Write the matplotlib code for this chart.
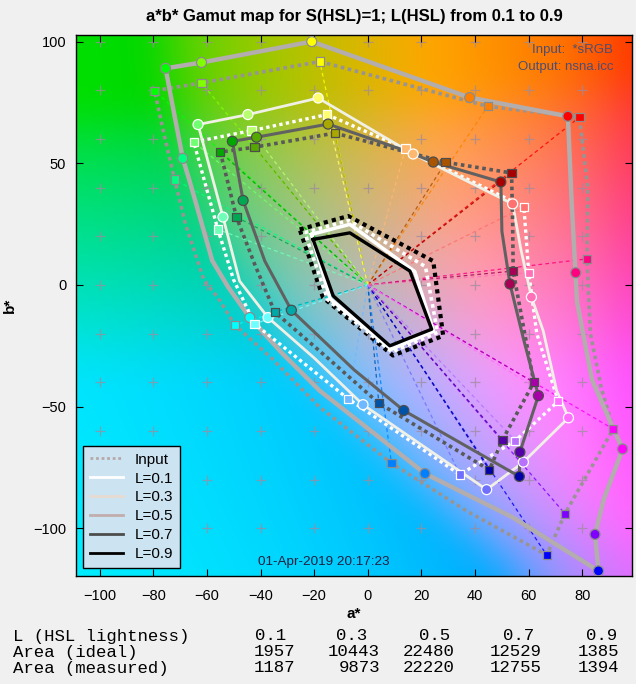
import colorsys
import numpy as np
import matplotlib
matplotlib.use("Agg")
import matplotlib.pyplot as plt
from matplotlib.lines import Line2D

plt.rcParams["font.family"] = ["Liberation Sans", "DejaVu Sans"]

# Marker hues (deg): R, O, Y, Ch, G, Sp, C, Az, B, V, M, Ro
HUES = [0, 30, 60, 90, 120, 150, 180, 210, 240, 270, 300, 330]

# L(HSL)=0.5 -- outer gray pair
L5_IN_A = [-17.9, 44.7, 78.9, 82, 81.7, 83, 87, 91.5, 73.5, 66.7, 37, 8.8, -17.9, -36, -49.6, -56, -61, -68, -72, -76, -79.5, -62, -17.9]
L5_IN_B = [91.8, 73.4, 68.9, 40, 10.7, -20, -42, -59.2, -94, -111, -93, -73.2, -50.3, -30, -16.4, -5, 1.6, 25, 43.3, 62, 79.8, 83, 91.8]
L5_IN_MK_A = [78.9, 44.7, -17.9, -62, -79.5, -72, -49.6, 8.8, 66.7, 73.5, 91.5, 81.7]
L5_IN_MK_B = [68.9, 73.4, 91.8, 83, 79.8, 43.3, -16.4, -73.2, -111, -94, -59.2, 10.7]
L5_MS_A = [-20.9, 38, 74.6, 76, 78, 83.6, 90.3, 95, 88, 84.7, 86, 54, 21.3, -0.4, -18, -32, -44, -52, -58, -66.4, -69, -73, -75.4, -62, -20.9]
L5_MS_B = [100, 77, 69.3, 34, -7, -39, -56, -67.4, -88, -102.5, -117.5, -95.5, -77.5, -58.6, -43.4, -28, -13.4, -1, 10, 42.6, 52, 75, 89, 91.4, 100]
L5_MS_MK_A = [74.6, 38, -20.9, -62, -75.4, -69, -44, 21.3, 86, 84.7, 95, 77.5]
L5_MS_MK_B = [69.3, 77, 100, 91.4, 89, 52, -13.4, -77.5, -117.5, -102.5, -67.4, 5]

# L(HSL)=0.7 -- dark gray pair
L7_IN_A = [-12.3, 29, 53.6, 54, 54.2, 58, 61.9, 50.2, 45.3, 4.1, -15, -34.7, -42, -49, -55, -42.2, -12.3]
L7_IN_B = [62.4, 50.4, 46, 25, 5.7, -17, -40, -63.7, -76, -48.6, -30, -11.1, 8, 27.9, 54.6, 56.6, 62.4]
L7_IN_MK_A = [53.6, 29, -12.3, -42.2, -55, -49, -34.7, 4.1, 45.3, 50.2, 61.9, 54.2]
L7_IN_MK_B = [46, 50.4, 62.4, 56.6, 54.6, 27.9, -11.1, -48.6, -76, -63.7, -40, 5.7]
L7_MS_A = [-14.8, 14.4, 24.4, 49.6, 50, 53, 58, 63.6, 56.7, 56.5, 13.4, -5, -28.5, -38.4, -46.5, -50.5, -41.5, -14.8]
L7_MS_B = [66.1, 55, 50.5, 42.3, 22, 0.4, -22, -45.5, -68.7, -78.7, -51.6, -35, -10.4, 9.8, 34.7, 59, 60.7, 66.1]
L7_MS_MK_A = [49.6, 24.4, -14.8, -41.5, -50.5, -46.5, -28.5, 13.4, 56.5, 56.7, 63.6, 53]
L7_MS_MK_B = [42.3, 50.5, 66.1, 60.7, 59, 34.7, -10.4, -51.6, -78.7, -68.7, -45.5, 0.4]

# L(HSL)=0.3 -- light pair
L3_IN_A = [-15.2, 14, 58.2, 60, 63, 71, 55, 34.3, -7.3, -42.2, -50, -55.9, -64.9, -43.4, -15.2]
L3_IN_B = [70, 56, 32, 5, -20, -47.8, -64, -77.9, -46.8, -16, 2, 22.8, 58.7, 63.4, 70]
L3_IN_MK_A = [58.2, 14, -15.2, -43.4, -64.9, -55.9, -42.2, -7.3, 34.3, 55, 71, 60]
L3_IN_MK_B = [32, 56, 70, 63.4, 58.7, 22.8, -16, -46.8, -77.9, -64, -47.8, 5]
L3_MS_A = [-18.5, 16.9, 54, 57, 61, 65.4, 70.4, 74.8, 58, 44.3, -1.8, -20, -37.2, -47.8, -54, -63.3, -44.7, -18.5]
L3_MS_B = [76.8, 53.8, 33.3, 15, -5, -18.9, -43.4, -54.6, -72.8, -84.1, -49.2, -30, -13.4, 1.6, 27.9, 65.9, 70, 76.8]
L3_MS_MK_A = [54, 16.9, -18.5, -44.7, -63.3, -54, -37.2, -1.8, 44.3, 58, 74.8, 61]
L3_MS_MK_B = [33.3, 53.8, 76.8, 70, 65.9, 27.9, -13.4, -49.2, -84.1, -72.8, -54.6, -5]

# L(HSL)=0.1 and 0.9 -- small central hexagons
L9_IN_A = [-25.4, -7.3, 24.4, 28.1, 9.4, -16.7, -25.4]
L9_IN_B = [22.8, 28.3, 9.8, -20.9, -29, -5.2, 22.8]
L1_IN_A = [-23.5, -7, 21.5, 26, 9, -15, -23.5]
L1_IN_B = [21.5, 26.5, 7.5, -19.5, -27.5, -6, 21.5]
L1_MS_A = [-21, -6.7, 17.5, 24.5, 8.8, -14, -21]
L1_MS_B = [20.8, 24.9, 5.5, -19, -26.4, -5.8, 20.8]
L9_MS_A = [-20.4, -6.7, 15.7, 23.8, 8.2, -12.9, -20.4]
L9_MS_B = [18.7, 21.4, 5.7, -18.2, -25, -4.5, 18.7]

# Table below the plot
TABLE_ROWS = ["L (HSL lightness)", "Area (ideal)", "Area (measured)"]
TABLE_L = ["0.1", "0.3", "0.5", "0.7", "0.9"]
AREA_IDEAL = [1957, 10443, 22480, 12529, 1385]
AREA_MEAS = [1187, 9873, 22220, 12755, 1394]

XLIM = (-108.8, 98.5)
YLIM = (-119.6, 102.7)


def lab_to_srgb(L, a, b):
    fy = (L + 16) / 116
    fx = fy + a / 500
    fz = fy - b / 200

    def finv(t):
        return np.where(t > 6 / 29, t ** 3, 3 * (6 / 29) ** 2 * (t - 4 / 29))

    X, Y, Z = 0.9505 * finv(fx), finv(fy), 1.089 * finv(fz)
    r = 3.2406 * X - 1.5372 * Y - 0.4986 * Z
    g = -0.9689 * X + 1.8758 * Y + 0.0415 * Z
    bb = 0.0557 * X - 0.2040 * Y + 1.0570 * Z
    rgb = np.clip(np.stack([r, g, bb], -1), 0, 1)
    return np.where(rgb <= 0.0031308, 12.92 * rgb, 1.055 * rgb ** (1 / 2.4) - 0.055)


def smooth(img, sigma):
    # separable gaussian blur, edges padded
    r = int(3 * sigma)
    k = np.exp(-0.5 * (np.arange(-r, r + 1) / sigma) ** 2)
    k /= k.sum()
    out = np.pad(img, ((r, r), (r, r), (0, 0)), mode="edge")
    out = np.apply_along_axis(lambda m: np.convolve(m, k, "valid"), 0, out)
    out = np.apply_along_axis(lambda m: np.convolve(m, k, "valid"), 1, out)
    return np.clip(out, 0, 1)


def hue_colors(light):
    return [colorsys.hls_to_rgb(h / 360, light, 1.0) for h in HUES]


fig = plt.figure(figsize=(6.36, 6.84), dpi=100, facecolor="#f0f0f0")
ax = fig.add_axes([76 / 636, 1 - 576 / 684, 556 / 636, 541 / 684])

# Lab background
ga, gb = np.meshgrid(np.linspace(*XLIM, 240), np.linspace(*YLIM, 240))
bg = smooth(lab_to_srgb(75, ga, gb), 8)
ax.imshow(bg, extent=(*XLIM, *YLIM), origin="lower", aspect="auto",
          interpolation="bilinear", zorder=0)

# reference crosses every 20 units
cx, cy = np.meshgrid(np.arange(-100, 81, 20), np.arange(-100, 101, 20))
ax.plot(cx.ravel(), cy.ravel(), "+", color=(0.62, 0.55, 0.62), ms=7, mew=0.9,
        alpha=0.75, zorder=1)

# radial dashed lines from the neutral point to each ideal marker
for mk_a, mk_b, light in [(L5_IN_MK_A, L5_IN_MK_B, 0.5),
                          (L7_IN_MK_A, L7_IN_MK_B, 0.33),
                          (L3_IN_MK_A, L3_IN_MK_B, 0.72)]:
    for x, y, c in zip(mk_a, mk_b, hue_colors(light)):
        ax.plot([0, x], [0, y], color=c, lw=0.9, dashes=(3, 2.5), alpha=0.85,
                zorder=2)

DOT = (0, (1, 1))
ax.plot(L5_IN_A, L5_IN_B, color=(0.6, 0.58, 0.58), lw=2.6, ls=DOT, zorder=3)
ax.plot(L5_MS_A, L5_MS_B, color=(0.7, 0.68, 0.68), lw=3.2, zorder=3)
ax.plot(L3_IN_A, L3_IN_B, color="white", lw=2.4, ls=DOT, zorder=3)
ax.plot(L3_MS_A, L3_MS_B, color=(0.94, 0.94, 0.9), lw=2.0, zorder=3)
ax.plot(L7_IN_A, L7_IN_B, color=(0.35, 0.35, 0.35), lw=2.6, ls=DOT, zorder=3)
ax.plot(L7_MS_A, L7_MS_B, color=(0.38, 0.38, 0.38), lw=2.2, zorder=3)
ax.plot(L9_IN_A, L9_IN_B, color="black", lw=3.0, ls=DOT, zorder=3)
ax.plot(L1_IN_A, L1_IN_B, color="white", lw=2.6, ls=DOT, zorder=3)
ax.plot(L1_MS_A, L1_MS_B, color="white", lw=2.6, zorder=3)
ax.plot(L9_MS_A, L9_MS_B, color="black", lw=2.4, zorder=3)

# hue markers: squares = ideal, circles = measured
for mk_a, mk_b, light, marker, edge, size in [
        (L5_IN_MK_A, L5_IN_MK_B, 0.5, "s", (0.55, 0.55, 0.55), 36),
        (L5_MS_MK_A, L5_MS_MK_B, 0.5, "o", (0.55, 0.55, 0.55), 52),
        (L3_IN_MK_A, L3_IN_MK_B, 0.72, "s", "white", 36),
        (L3_MS_MK_A, L3_MS_MK_B, 0.72, "o", "white", 52),
        (L7_IN_MK_A, L7_IN_MK_B, 0.33, "s", (0.3, 0.3, 0.3), 36),
        (L7_MS_MK_A, L7_MS_MK_B, 0.33, "o", (0.3, 0.3, 0.3), 52)]:
    ax.scatter(mk_a, mk_b, s=size, marker=marker, c=hue_colors(light),
               edgecolors=[edge], linewidths=0.9, zorder=4)

ax.set_xlim(*XLIM)
ax.set_ylim(*YLIM)
ax.set_xticks(range(-100, 81, 20))
ax.set_yticks([-100, -50, 0, 50, 100])
ax.tick_params(direction="in", top=True, right=True, length=5, labelsize=10.5)
ax.tick_params(axis="x", pad=9)
ax.tick_params(axis="y", pad=7)
for sp in ax.spines.values():
    sp.set_linewidth(1.0)
ax.set_xlabel("a*", fontsize=11, fontweight="bold", labelpad=3)
ax.set_ylabel("b*", fontsize=11, fontweight="bold", labelpad=12)
ax.set_title("a*b* Gamut map for S(HSL)=1; L(HSL) from 0.1 to 0.9",
             fontsize=12, fontweight="bold", pad=10)

ax.text((613 - 76) / 556, (576 - 50) / 541, "Input:  *sRGB", transform=ax.transAxes,
        ha="right", va="center", fontsize=9.5, color=(0.3, 0.3, 0.45))
ax.text((613 - 76) / 556, (576 - 67) / 541, "Output: nsna.icc", transform=ax.transAxes,
        ha="right", va="center", fontsize=9.5, color=(0.3, 0.3, 0.45))
ax.text((324 - 76) / 556, (576 - 562) / 541, "01-Apr-2019 20:17:23",
        transform=ax.transAxes, ha="center", va="center", fontsize=9.7,
        color=(0.12, 0.12, 0.25))

handles = [
    Line2D([], [], color=(0.72, 0.66, 0.66), lw=2, ls=DOT),
    Line2D([], [], color="white", lw=2),
    Line2D([], [], color=(0.9, 0.86, 0.82), lw=2),
    Line2D([], [], color=(0.76, 0.68, 0.68), lw=2),
    Line2D([], [], color=(0.3, 0.3, 0.3), lw=2),
    Line2D([], [], color="black", lw=2),
]
leg = ax.legend(handles, ["Input", "L=0.1", "L=0.3", "L=0.5", "L=0.7", "L=0.9"],
                loc="lower left", bbox_to_anchor=((83 - 76) / 556, (576 - 568) / 541),
                borderaxespad=0, fontsize=11, handlelength=2.2,
                handletextpad=0.75, labelspacing=0.32, borderpad=0.45,
                fancybox=False, framealpha=1, facecolor=(0.8, 0.89, 0.95),
                edgecolor="black")
leg.get_frame().set_linewidth(1.0)
leg.set_zorder(6)

# lightness / area table
mono = dict(family="Liberation Mono", fontsize=12.5, va="center")
row_y = [636, 652, 668]
col_r = [[286, 367, 450, 534, 617], [295, 380, 455, 542, 619], [295, 380, 455, 542, 619]]
rows = [TABLE_L, [str(v) for v in AREA_IDEAL], [str(v) for v in AREA_MEAS]]
for label, y, cells, rights in zip(TABLE_ROWS, row_y, rows, col_r):
    fig.text(13 / 636, 1 - y / 684, label, ha="left", **mono)
    for txt, xr in zip(cells, rights):
        fig.text(xr / 636, 1 - y / 684, txt, ha="right", **mono)

fig.savefig("out.png", dpi=100, facecolor=fig.get_facecolor())
